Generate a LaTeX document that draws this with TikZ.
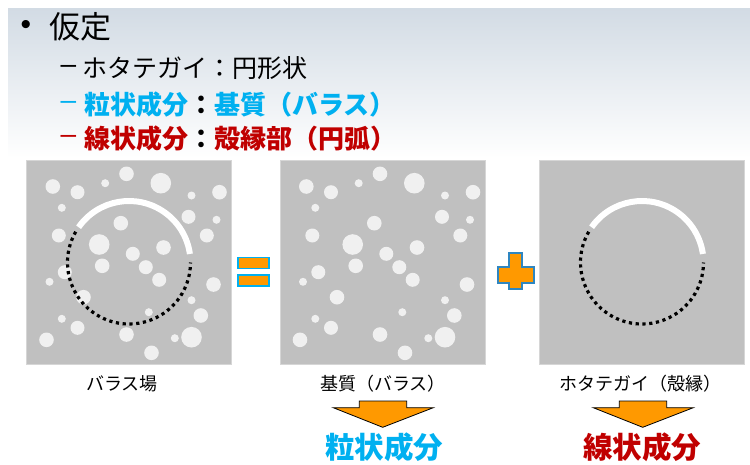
\documentclass[tikz,border=0pt]{standalone}
\usepackage{fontspec}
\newfontfamily\jp{Noto Sans CJK JP}
\newfontfamily\lat{Liberation Sans}
\definecolor{cyanT}{RGB}{0,176,240}
\definecolor{redT}{RGB}{192,0,0}
\definecolor{orng}{RGB}{255,153,0}
\definecolor{panelg}{RGB}{192,192,192}
\definecolor{panelb}{RGB}{214,214,214}
\definecolor{partc}{RGB}{240,240,240}
\definecolor{bandc}{RGB}{210,219,228}
\definecolor{plusb}{RGB}{46,134,193}
\newcommand\myparticles{%
  \foreach \px/\py/\pr in {26.3/26/7.3, 51/31.7/7, 78.7/22.7/4, 100/13.3/7.3, 134.3/22.7/10.3,
    165/35/4, 193/31.7/7.3, 35.3/47.3/4, 162/56.3/7, 190/59.3/4, 94.3/62.7/7.3, 32.3/75/7,
    72.7/84/10.3, 180.3/75/7, 137/87/7.3, 106.3/93.3/7, 75.7/105.3/7.3, 119.3/106.7/7,
    38.3/111.7/7, 132.7/119.3/7, 23/121.3/4, 187/124/7.3, 57/136.7/7.3, 165/139.7/4,
    122.3/151.7/4, 174.3/155/7.3, 35.3/158.3/4, 51/167.3/7, 100/174/7.3, 20/179.3/7.3,
    148.3/177.7/4, 165/176.7/10.3, 125/192.3/7.3}
  {\fill[partc] (\px,-\py) circle[radius=\pr];}}
\begin{document}
\begin{tikzpicture}[x=1pt,y=1pt,
  panel/.style={draw=panelb, line width=0.8pt, fill=panelg, minimum width=205pt,
    minimum height=204pt, inner sep=0pt, outer sep=0pt},
  whitearc/.style={draw=white, line width=6pt},
  dotarc/.style={draw=black, line width=3.2pt, dash pattern=on 3.2pt off 3.6pt},
  eqbar/.style={fill=orng, draw=cyanT, line width=1.6pt, minimum width=31.4pt,
    minimum height=11pt, inner sep=0pt},
  bigarrow/.style={fill=orng, draw=black, line width=0.8pt, line join=miter},
  plusshape/.style={fill=orng, draw=plusb, line width=2pt, line join=miter},
  lbl/.style={font=\jp\fontsize{18}{20}\selectfont, inner sep=0pt},
  res/.style={font=\jp\bfseries\fontsize{29.5}{32}\selectfont, inner sep=0pt},
  hdr/.style={anchor=west, inner sep=0pt},
  dashmark/.style={font=\lat\fontsize{28}{30}\selectfont, inner sep=0pt}
]
\useasboundingbox (0,0) rectangle (750,-464);
\shade[top color=bandc, bottom color=white] (8,-8) rectangle (750,-158);

% header
\node[font=\lat\fontsize{30}{32}\selectfont, inner sep=0pt] (bul) at (26,-27) {•};
\node[hdr, font=\jp\fontsize{31}{34}\selectfont] (h1) at (49,-27) {仮定};
\node[dashmark] (d1) at (68.5,-69) {–};
\node[hdr, font=\jp\fontsize{25}{28}\selectfont] (h2) at (82,-68.5) {ホタテガイ：円形状};
\node[dashmark, text=cyanT] (d2) at (68.5,-105) {–};
\node[hdr, font=\jp\bfseries\fontsize{26}{28}\selectfont] (h3) at (84,-105)
  {\textcolor{cyanT}{粒状成分}：\textcolor{cyanT}{基質（バラス）}};
\node[dashmark, text=redT] (d3) at (68.5,-139.5) {–};
\node[hdr, font=\jp\bfseries\fontsize{26}{28}\selectfont] (h4) at (84,-139)
  {\textcolor{redT}{線状成分}：\textcolor{redT}{殻縁部（円弧）}};

% panels
\node[panel] (pA) at (129,-262.5) {};
\node[panel] (pB) at (382.5,-262.5) {};
\node[panel] (pC) at (642,-262.5) {};
\begin{scope}[shift={(pA.north west)}]\myparticles\end{scope}
\begin{scope}[shift={(pB.north west)}]\myparticles\end{scope}

\draw[whitearc] ([shift={(145:61.5)}]pA.center) arc[start angle=145, end angle=8, radius=61.5];
\draw[dotarc] ([shift={(150:61.5)}]pA.center) arc[start angle=150, end angle=360, radius=61.5];
\draw[whitearc] ([shift={(145:61.5)}]pC.center) arc[start angle=145, end angle=8, radius=61.5];
\draw[dotarc] ([shift={(150:61.5)}]pC.center) arc[start angle=150, end angle=360, radius=61.5];

% equals and plus
\node[eqbar] (eq1) at (253.5,-263) {};
\node[eqbar] (eq2) at (253.5,-280.3) {};
\draw[plusshape] (509.3,-253.3) -- (521.7,-253.3) -- (521.7,-266.7) -- (533.7,-266.7)
  -- (533.7,-283.3) -- (521.7,-283.3) -- (521.7,-289) -- (509.3,-289) -- (509.3,-283.3)
  -- (497.7,-283.3) -- (497.7,-266.7) -- (509.3,-266.7) -- cycle;

% labels
\node[lbl] (lA) at (122,-384) {バラス場};
\node[lbl] (lB) at (383,-384) {基質（バラス）};
\node[lbl] (lC) at (640,-384) {ホタテガイ（殻縁）};

% arrows
\draw[bigarrow] (359.3,-401) -- (406.7,-401) -- (406.7,-407.7) -- (433.3,-407.7)
  -- (382.7,-427.3) -- (333.3,-407.7) -- (359.3,-407.7) -- cycle;
\draw[bigarrow] (619.3,-401) -- (666.7,-401) -- (666.7,-407.7) -- (693.3,-407.7)
  -- (642.7,-427.3) -- (593.3,-407.7) -- (619.3,-407.7) -- cycle;

\node[res, text=cyanT] (rB) at (384,-447) {粒状成分};
\node[res, text=redT] (rC) at (642,-447) {線状成分};
\end{tikzpicture}
\end{document}
